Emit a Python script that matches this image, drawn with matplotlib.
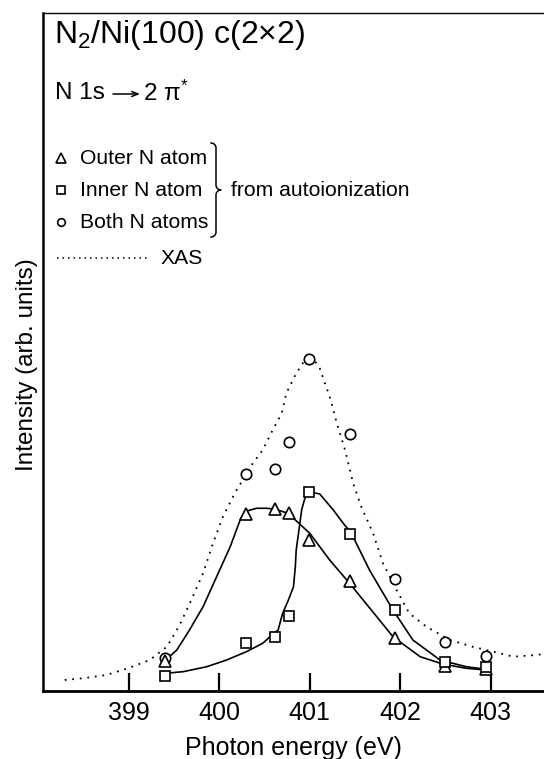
import numpy as np
import matplotlib
matplotlib.use('Agg')
import matplotlib.pyplot as plt

plt.rcParams['font.family'] = ['Liberation Sans', 'DejaVu Sans']
plt.rcParams['mathtext.fontset'] = 'custom'
plt.rcParams['mathtext.rm'] = 'Liberation Sans'
plt.rcParams['mathtext.it'] = 'Liberation Sans:italic'

# Data (photon energy in eV, intensity in arb. units)
energy_pts = [399.40, 400.29, 400.61, 400.77, 400.99, 401.45, 401.94, 402.50, 402.95]
both_pts = [4.8, 32.0, 32.7, 36.7, 49.0, 37.9, 16.5, 7.2, 5.1]
outer_pts = [4.4, 26.1, 26.8, 26.2, 22.2, 16.2, 7.8, 3.7, 3.2]
inner_pts = [2.2, 7.1, 7.9, 11.1, 29.4, 23.2, 11.9, 4.3, 3.5]

# fitted curves
outer_fit_x = [399.40, 399.53, 399.67, 399.82, 399.97, 400.12, 400.23, 400.28, 400.41,
               400.52, 400.61, 400.76, 401.00, 401.22, 401.44, 401.68, 401.92, 402.22,
               402.47, 402.73, 402.95]
outer_fit_y = [4.5, 6.05, 9.00, 12.43, 16.86, 21.28, 25.22, 26.45, 26.95,
               26.95, 26.84, 26.21, 23.26, 19.32, 15.88, 11.95, 8.01, 5.06,
               3.98, 3.35, 3.10]
inner_fit_x = [399.40, 399.60, 399.86, 400.08, 400.30, 400.48, 400.56, 400.65, 400.70,
               400.76, 400.82, 400.84, 400.85, 400.88, 400.91, 400.94, 400.96, 401.04,
               401.11, 401.26, 401.37, 401.46, 401.66, 401.92, 402.14, 402.44, 402.73,
               402.95]
inner_fit_y = [2.61, 2.85, 3.58, 4.57, 5.80, 7.04, 8.01, 9.00, 11.46,
               13.3, 15.38, 18.3, 20.80, 23.7, 26.70, 28.17, 28.91, 29.25,
               29.06, 26.70, 24.73, 23.26, 17.85, 11.95, 7.52, 4.57, 3.58,
               3.20]

# XAS spectrum
xas_x = [398.29, 398.52, 398.75, 398.99, 399.23, 399.42, 399.56, 399.69, 399.82, 399.93,
         400.04, 400.17, 400.28, 400.37, 400.48, 400.59, 400.69, 400.74, 400.85, 400.93,
         401.00, 401.06, 401.11, 401.22, 401.30, 401.39, 401.48, 401.57, 401.70, 401.81,
         401.96, 402.10, 402.29, 402.55, 402.80, 403.03, 403.25, 403.51, 403.60]
xas_y = [1.62, 1.92, 2.36, 3.35, 4.57, 6.53, 9.70, 13.42, 17.36, 21.78,
         25.71, 29.16, 31.61, 33.58, 35.55, 38.50, 40.96, 43.91, 46.86, 48.5,
         48.9, 48.6, 47.6, 43.41, 39.48, 35.55, 30.63, 27.18, 23.26, 18.83,
         14.90, 11.46, 9.48, 7.52, 6.53, 5.80, 5.06, 5.31, 5.5]

xticks = [399, 400, 401, 402, 403]

W, H = 544, 759
fig = plt.figure(figsize=(W / 100, H / 100), dpi=100)
ax = fig.add_axes([43 / W, (H - 691) / H, (W - 43) / W, (691 - 13) / H])

ax.plot(xas_x, xas_y, color='black', lw=1.3, linestyle=(0, (1, 3.2)))
ax.plot(outer_fit_x, outer_fit_y, color='black', lw=1.2)
ax.plot(inner_fit_x, inner_fit_y, color='black', lw=1.2)

mk = dict(linestyle='none', mfc='white', mec='black', mew=1.2)
ax.plot(energy_pts, both_pts, marker='o', ms=7.5, **mk)
ax.plot(energy_pts, outer_pts, marker='^', ms=8, **mk)
ax.plot(energy_pts, inner_pts, marker='s', ms=7, **mk)

ax.set_xlim(398.05, 403.59)
ax.set_ylim(0, 100)
ax.set_xticks(xticks)
ax.set_xticklabels([str(t) for t in xticks], fontsize=18)
ax.set_yticks([])
ax.tick_params(axis='x', direction='in', length=13, width=1.6, pad=7)
ax.spines['right'].set_visible(False)
ax.spines['left'].set_linewidth(1.8)
ax.spines['bottom'].set_linewidth(2.0)
ax.spines['top'].set_linewidth(1.0)

ax.set_xlabel('Photon energy (eV)', fontsize=18, labelpad=8)
ax.set_ylabel('Intensity (arb. units)', fontsize=17.5)
ax.yaxis.set_label_coords(-0.010, 0.481)


def axpt(px, py):
    # pixel position in the picture -> axes fraction
    return (px - 43) / (W - 43), (691 - py) / (691 - 13)


# text block
x0, y0 = axpt(54, 35)
ax.text(x0, y0, r'N$_2$/Ni(100) c(2×2)', transform=ax.transAxes, fontsize=23, va='center', ha='left')
x0, y0 = axpt(55, 93)
ax.text(x0, y0, 'N 1s', transform=ax.transAxes, fontsize=17.5, va='center', ha='left')
ax.annotate('', xy=axpt(140, 94), xytext=axpt(113, 94), xycoords='axes fraction',
            textcoords='axes fraction',
            arrowprops=dict(arrowstyle='->,head_length=0.45,head_width=0.18', lw=1.1, color='black',
                            shrinkA=0, shrinkB=0))
x0, y0 = axpt(143, 93)
ax.text(x0, y0, r'2 π$^{*}$', transform=ax.transAxes, fontsize=17.5, va='center', ha='left')

legend_items = [('^', 'Outer N atom', 158, 7), ('s', 'Inner N atom', 190, 6), ('o', 'Both N atoms', 222, 5.5)]
for m, lab, py, ms in legend_items:
    mx, my = axpt(61, py)
    ax.plot([mx], [my], marker=m, ms=ms, transform=ax.transAxes, clip_on=False, **mk)
    tx, ty = axpt(80, py)
    ax.text(tx, ty, lab, transform=ax.transAxes, fontsize=15.2, va='center', ha='left')

lx1, ly = axpt(57, 258)
lx2, _ = axpt(148, 258)
ax.plot([lx1, lx2], [ly, ly], transform=ax.transAxes, color='black', lw=1.1, linestyle=(0, (1, 2.6)))
tx, ty = axpt(161, 258)
ax.text(tx, ty, 'XAS', transform=ax.transAxes, fontsize=15.2, va='center', ha='left')

# brace
t = np.linspace(0, np.pi / 2, 20)
r = 5
bx_l, ytop, ymid, ybot = 211, 143, 190, 237
xs, ys = [], []
xs += list(bx_l + r * np.sin(t)); ys += list(ytop + r - r * np.cos(t))
xs += [bx_l + r, bx_l + r]; ys += [ytop + r, ymid - r]
xs += list(bx_l + r + r * (1 - np.cos(t))); ys += list(ymid - r + r * np.sin(t))
xs += list(bx_l + r + r * (1 - np.cos(t[::-1]))); ys += list(ymid + r - r * np.sin(t[::-1]))
xs += [bx_l + r, bx_l + r]; ys += [ymid + r, ybot - r]
xs += list(bx_l + r * np.sin(t[::-1])); ys += list(ybot - r + r * np.cos(t[::-1]))
bp = [axpt(a, b) for a, b in zip(xs, ys)]
ax.plot([p[0] for p in bp], [p[1] for p in bp], transform=ax.transAxes, color='black', lw=1.1)
tx, ty = axpt(231, 190)
ax.text(tx, ty, 'from autoionization', transform=ax.transAxes, fontsize=15.2, va='center', ha='left')

fig.savefig('out.png', dpi=100)
